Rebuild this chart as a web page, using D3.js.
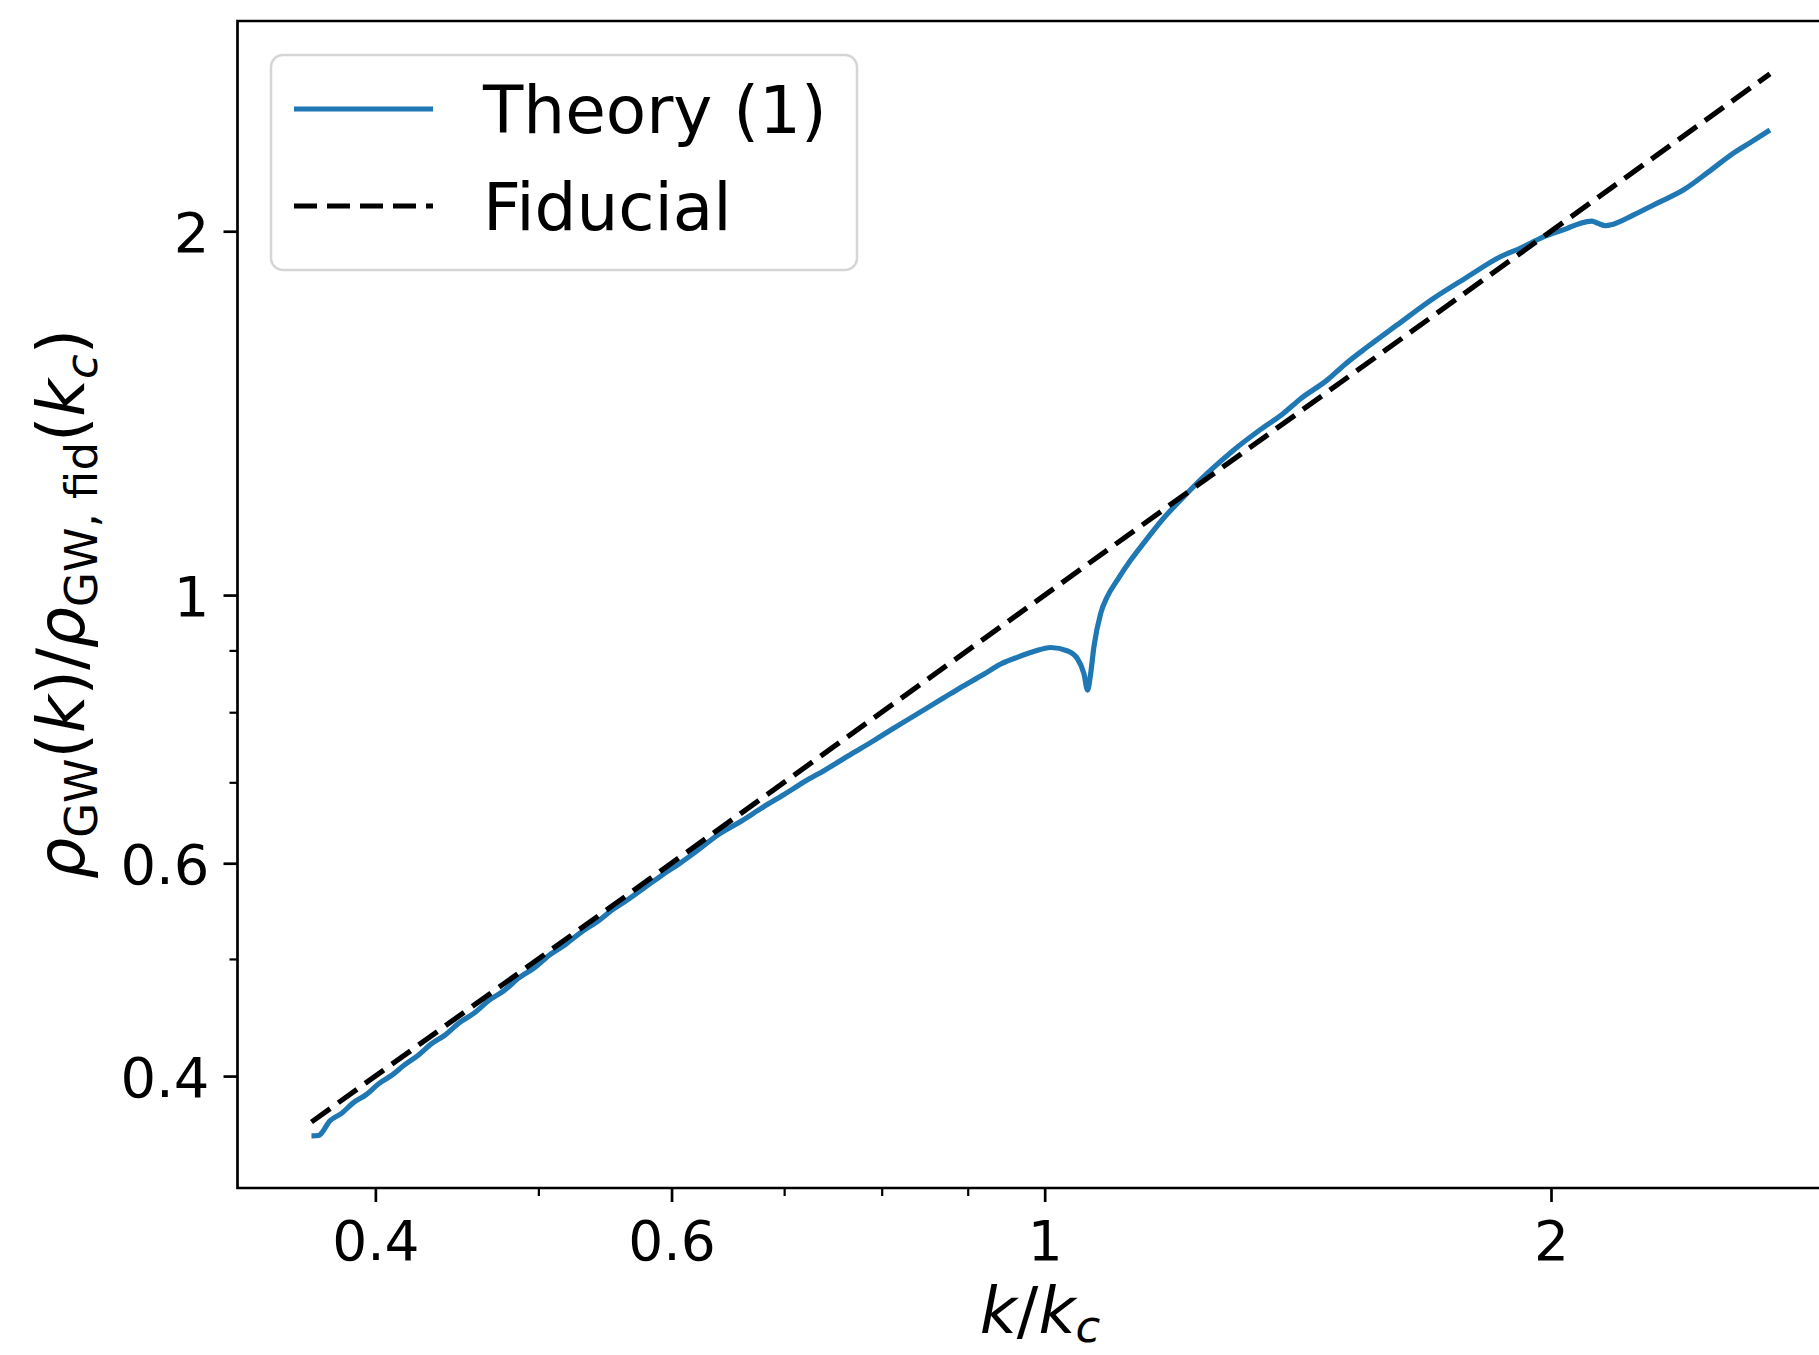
<!DOCTYPE html>
<html>
<head>
<meta charset="utf-8">
<script src="https://cdn.jsdelivr.net/npm/d3@7"></script>
<style>
  body { margin: 0; background: #fff; }
  svg { display: block; font-family: "DejaVu Sans", sans-serif; }
</style>
</head>
<body>
<div id="chart"></div>
<script>
// k / k_c samples of the theory curve and the values
var theoryK = [0.3665, 0.3700, 0.3760, 0.3820, 0.3880, 0.3950, 0.4020, 0.4090, 0.4160, 0.4240,
  0.4320, 0.4400, 0.4490, 0.4580, 0.4670, 0.4770, 0.4870, 0.4970, 0.5080, 0.5190,
  0.5300, 0.5420, 0.5540, 0.5660, 0.5790, 0.5920, 0.6060, 0.6200, 0.6400, 0.6600,
  0.6800, 0.7000, 0.7200, 0.7400, 0.7670, 0.7900, 0.8100, 0.8400, 0.8700, 0.8900,
  0.9200, 0.9417, 0.9638, 0.9850, 1.0083, 1.0320, 1.0457, 1.0551, 1.0605, 1.0650,
  1.0697, 1.0797, 1.0894, 1.1045, 1.1250, 1.1450, 1.1750, 1.2090, 1.2500, 1.2950,
  1.3400, 1.3870, 1.4190, 1.4720, 1.5100, 1.5550, 1.6200, 1.7020, 1.7800, 1.8660,
  1.9200, 1.9780, 2.0450, 2.0810, 2.1150, 2.1330, 2.1550, 2.1780, 2.2380, 2.3100,
  2.3970, 2.4800, 2.5650, 2.6300, 2.6990];
var theoryV = [0.3570, 0.3572, 0.3675, 0.3727, 0.3801, 0.3861, 0.3944, 0.4005, 0.4083, 0.4160,
  0.4255, 0.4325, 0.4431, 0.4511, 0.4617, 0.4707, 0.4824, 0.4914, 0.5041, 0.5141,
  0.5260, 0.5369, 0.5498, 0.5606, 0.5735, 0.5864, 0.5991, 0.6130, 0.6340, 0.6500,
  0.6676, 0.6840, 0.7010, 0.7164, 0.7384, 0.7568, 0.7733, 0.7975, 0.8215, 0.8375,
  0.8600, 0.8770, 0.8886, 0.8980, 0.9050, 0.8990, 0.8862, 0.8614, 0.8345, 0.8614,
  0.9061, 0.9657, 0.9968, 1.0290, 1.0690, 1.1040, 1.1550, 1.2050, 1.2620, 1.3180,
  1.3670, 1.4140, 1.4530, 1.5060, 1.5540, 1.6040, 1.6730, 1.7590, 1.8300, 1.9050,
  1.9380, 1.9780, 2.0110, 2.0300, 2.0390, 2.0300, 2.0210, 2.0270, 2.0620, 2.1080,
  2.1630, 2.2380, 2.3190, 2.3700, 2.4250];

var fiducialK = [0.3665, 2.699];
var fiducialV = [0.3665, 2.699];

var xMajorTicks = [0.4, 0.6, 1, 2];
var xMinorTicks = [0.5, 0.7, 0.8, 0.9];
var yMajorTicks = [0.4, 0.6, 1, 2];
var yMinorTicks = [0.5, 0.7, 0.8, 0.9];
var tickLabels = {0.4: '0.4', 0.6: '0.6', 1: '1', 2: '2'};

var W = 1819, H = 1355;
var margin = {left: 237.5, top: 21, bottom: 1188, right: 1844};

var svg = d3.select('#chart').append('svg')
  .attr('width', W).attr('height', H);
svg.append('rect').attr('width', W).attr('height', H).attr('fill', '#fff');

var x = d3.scaleLog().domain([0.3312, 2.987]).range([margin.left, margin.right]);
var y = d3.scaleLog().domain([0.3232, 2.985]).range([margin.bottom, margin.top]);

// minor ticks
svg.append('g')
  .attr('transform', 'translate(0,' + margin.bottom + ')')
  .call(d3.axisBottom(x).tickValues(xMinorTicks).tickSize(8).tickFormat(''))
  .call(function(g) {
    g.select('.domain').remove();
    g.selectAll('line').attr('stroke-width', 2.2);
  });
svg.append('g')
  .attr('transform', 'translate(' + margin.left + ',0)')
  .call(d3.axisLeft(y).tickValues(yMinorTicks).tickSize(8).tickFormat(''))
  .call(function(g) {
    g.select('.domain').remove();
    g.selectAll('line').attr('stroke-width', 2.2);
  });

// major ticks
var xAxis = svg.append('g')
  .attr('transform', 'translate(0,' + margin.bottom + ')')
  .call(d3.axisBottom(x).tickValues(xMajorTicks).tickSize(14).tickSizeOuter(0)
    .tickFormat(function(d) { return tickLabels[d]; }));
xAxis.select('.domain').remove();
xAxis.selectAll('line').attr('stroke-width', 2.7);
xAxis.selectAll('text')
  .attr('y', 72).attr('dy', 0)
  .attr('font-size', 55)
  .attr('font-family', 'DejaVu Sans')
  .attr('fill', '#000');

var yAxis = svg.append('g')
  .attr('transform', 'translate(' + margin.left + ',0)')
  .call(d3.axisLeft(y).tickValues(yMajorTicks).tickSize(14).tickSizeOuter(0)
    .tickFormat(function(d) { return tickLabels[d]; }));
yAxis.select('.domain').remove();
yAxis.selectAll('line').attr('stroke-width', 2.7);
yAxis.selectAll('text')
  .attr('x', -28).attr('dy', '0.36em')
  .attr('font-size', 56)
  .attr('font-family', 'DejaVu Sans')
  .attr('fill', '#000');

// lines
var line = d3.line()
  .x(function(d) { return x(d[0]); })
  .y(function(d) { return y(d[1]); });

var theory = theoryK.map(function(k, i) { return [k, theoryV[i]]; });
var fiducial = fiducialK.map(function(k, i) { return [k, fiducialV[i]]; });

svg.append('path')
  .datum(theory)
  .attr('d', line.curve(d3.curveMonotoneX))
  .attr('fill', 'none')
  .attr('stroke', '#1f77b4')
  .attr('stroke-width', 5.2)
  .attr('stroke-linejoin', 'round');

svg.append('path')
  .datum(fiducial)
  .attr('d', line.curve(d3.curveLinear))
  .attr('fill', 'none')
  .attr('stroke', '#000')
  .attr('stroke-width', 5.2)
  .attr('stroke-dasharray', '23,10');

// spines (right one falls outside the picture)
svg.append('path')
  .attr('d', 'M' + margin.right + ',' + margin.top + 'H' + margin.left + 'V' + margin.bottom + 'H' + margin.right)
  .attr('fill', 'none')
  .attr('stroke', '#000')
  .attr('stroke-width', 2.7);

// axis labels
var xl = svg.append('text')
  .attr('x', 1040).attr('y', 1333)
  .attr('text-anchor', 'middle')
  .attr('font-size', 64)
  .attr('fill', '#000');
xl.append('tspan').attr('font-style', 'italic').text('k');
xl.append('tspan').text('/');
xl.append('tspan').attr('font-style', 'italic').text('k');
xl.append('tspan').attr('font-style', 'italic').attr('font-size', 45).attr('dy', 9).text('c');

var yl = svg.append('text')
  .attr('transform', 'translate(84,604) rotate(-90)')
  .attr('text-anchor', 'middle')
  .attr('font-size', 65)
  .attr('fill', '#000');
yl.append('tspan').attr('font-style', 'italic').text('ρ');
yl.append('tspan').attr('font-size', 45).attr('dy', 13).text('GW');
yl.append('tspan').attr('dy', -13).text('(');
yl.append('tspan').attr('font-style', 'italic').text('k');
yl.append('tspan').text(')/');
yl.append('tspan').attr('font-style', 'italic').text('ρ');
yl.append('tspan').attr('font-size', 45).attr('dy', 13).text('GW, fid');
yl.append('tspan').attr('dy', -13).text('(');
yl.append('tspan').attr('font-style', 'italic').text('k');
yl.append('tspan').attr('font-style', 'italic').attr('font-size', 45).attr('dy', 13).text('c');
yl.append('tspan').attr('dy', -13).text(')');

// legend
var legend = svg.append('g');
legend.append('rect')
  .attr('x', 271).attr('y', 55)
  .attr('width', 586).attr('height', 215)
  .attr('rx', 12).attr('ry', 12)
  .attr('fill', '#fff').attr('fill-opacity', 0.8)
  .attr('stroke', '#d5d5d5').attr('stroke-width', 2.5);

var legendItems = [
  {label: 'Theory (1)', color: '#1f77b4', dash: null, y: 109},
  {label: 'Fiducial', color: '#000', dash: '23,10', y: 206}
];
legendItems.forEach(function(d) {
  legend.append('line')
    .attr('x1', 294).attr('x2', 433)
    .attr('y1', d.y).attr('y2', d.y)
    .attr('stroke', d.color)
    .attr('stroke-width', 5.2)
    .attr('stroke-dasharray', d.dash);
  legend.append('text')
    .attr('x', 483).attr('y', d.y)
    .attr('dy', '0.36em')
    .attr('font-size', 66)
    .attr('fill', '#000')
    .text(d.label);
});
</script>
</body>
</html>
